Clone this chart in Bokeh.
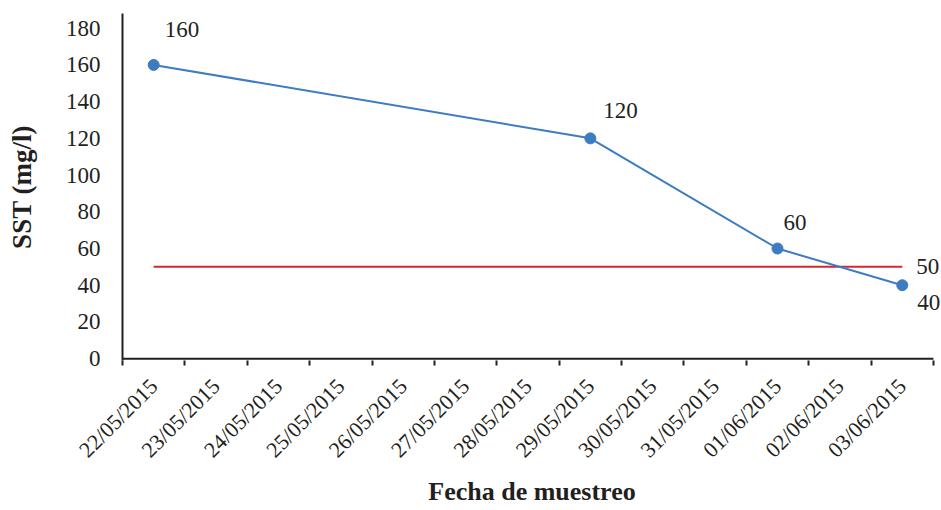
import math
from bokeh.plotting import figure
from bokeh.models import Range1d, FixedTicker, Label
from bokeh.embed import file_html
from bokeh.resources import INLINE

# ---- data ----
dates = ["22/05/2015", "23/05/2015", "24/05/2015", "25/05/2015", "26/05/2015",
         "27/05/2015", "28/05/2015", "29/05/2015", "30/05/2015", "31/05/2015",
         "01/06/2015", "02/06/2015", "03/06/2015"]
sample_dates = ["22/05/2015", "29/05/2015", "01/06/2015", "03/06/2015"]
sst = [160, 120, 60, 40]
limit = 50
y_ticks = [0, 20, 40, 60, 80, 100, 120, 140, 160, 180]
y_max = 188

# ---- styles ----
FONT = "Liberation Serif"
TXT = "#231F20"
BLUE = "#3E7CC2"
RED = "#D7262C"
label_offsets = [(11, 35), (13, 28), (6, 26), (15, -17)]  # (dx, dy) px
limit_offset = (14, 0)

pos = {d: i for i, d in enumerate(dates)}
xs = [pos[d] for d in sample_dates]
x_lo = -0.5
x_hi = len(dates) - 0.5

p = figure(width=941, height=510, output_backend="svg", toolbar_location=None,
           x_range=Range1d(x_lo, x_hi + 0.129), y_range=Range1d(-1, y_max),
           min_border_left=122, min_border_right=0, min_border_top=13,
           min_border_bottom=150)
p.outline_line_color = None
p.grid.grid_line_color = None
p.background_fill_color = "white"
p.border_fill_color = "white"

# x axis line (only over the category band)
p.segment(x0=[x_lo], y0=[0], x1=[x_hi], y1=[0], line_color=TXT, line_width=2)

# limit line
p.line([pos[dates[0]], pos[dates[-1]]], [limit, limit], line_color=RED, line_width=2)
# series
p.line(xs, sst, line_color=BLUE, line_width=2)
p.scatter(xs, sst, size=11, fill_color=BLUE, line_color=BLUE)

for x, v, (dx, dy) in zip(xs, sst, label_offsets):
    p.add_layout(Label(x=x, y=v, text=str(v), x_offset=dx, y_offset=dy,
                       text_font=FONT, text_font_size="23px", text_color=TXT,
                       text_baseline="middle", text_align="left"))
p.add_layout(Label(x=pos[dates[-1]], y=limit, text=str(limit),
                   x_offset=limit_offset[0], y_offset=limit_offset[1],
                   text_font=FONT, text_font_size="23px", text_color=TXT,
                   text_baseline="middle", text_align="left"))

# x axis
xa = p.xaxis[0]
xa.ticker = FixedTicker(ticks=list(range(len(dates))),
                        minor_ticks=[i - 0.5 for i in range(len(dates) + 1)])
xa.major_label_overrides = {i: d for i, d in enumerate(dates)}
xa.major_label_orientation = math.pi / 4
xa.major_tick_line_color = None
xa.major_tick_out = 0
xa.major_tick_in = 0
xa.minor_tick_line_color = TXT
xa.minor_tick_line_width = 2
xa.minor_tick_out = 5
xa.minor_tick_in = 0
xa.axis_line_color = None
xa.major_label_standoff = 17
xa.major_label_text_font = FONT
xa.major_label_text_font_size = "22px"
xa.major_label_text_color = TXT
xa.axis_label = "Fecha de muestreo"
xa.axis_label_text_font = FONT
xa.axis_label_text_font_size = "26px"
xa.axis_label_text_font_style = "bold"
xa.axis_label_text_color = TXT
xa.axis_label_standoff = 3

# y axis
ya = p.yaxis[0]
ya.ticker = FixedTicker(ticks=y_ticks)
ya.major_tick_line_color = None
ya.minor_tick_line_color = None
ya.major_tick_out = 0
ya.major_tick_in = 0
ya.axis_line_color = TXT
ya.axis_line_width = 2
ya.major_label_standoff = 22
ya.major_label_text_font = FONT
ya.major_label_text_font_size = "23px"
ya.major_label_text_color = TXT
ya.axis_label = "SST (mg/l)"
ya.axis_label_text_font = FONT
ya.axis_label_text_font_size = "27px"
ya.axis_label_text_font_style = "bold"
ya.axis_label_text_color = TXT
ya.axis_label_standoff = 26

open("out.html", "w").write(file_html(p, INLINE))
